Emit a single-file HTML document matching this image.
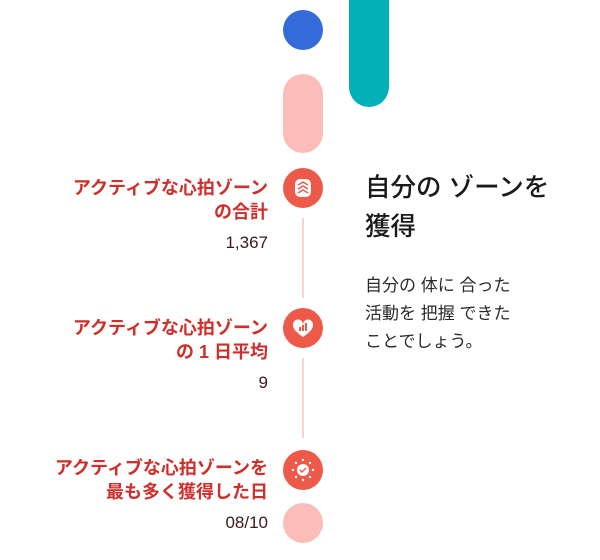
<!DOCTYPE html><html><head><meta charset="utf-8"><style>
body{margin:0;width:600px;height:560px;background:#fff;position:relative;overflow:hidden;font-family:"Liberation Sans","Noto Sans CJK JP",sans-serif}
div{position:absolute}
.c{width:40px;height:40px;border-radius:50%;background:#ee5a4a;left:283px}
.l{left:302px;width:2px;background:#fbd3d0}
.t{right:332px;text-align:right;color:#cf2f2a;font-weight:bold;font-size:18px;line-height:24px;white-space:nowrap}
.n{right:332px;color:#3a1a1e;font-size:17px;line-height:18px}
</style></head><body>
<div style="left:283px;top:10px;width:40px;height:40px;border-radius:50%;background:#356bd8"></div>
<div style="left:283px;top:74px;width:40px;height:79px;border-radius:20px;background:#fbbdb7"></div>
<div style="left:349px;top:-30px;width:40px;height:137px;border-radius:20px;background:#03b0b8"></div>

<div class="c" style="top:168px"><svg width="40" height="40"><rect x="12" y="11" width="16" height="18" rx="5" fill="#fff"/><path d="M15 17l5-3 5 3M15 21l5-3 5 3M15 25l5-3 5 3" stroke="#ee5a4a" stroke-width="1.6" fill="none"/></svg></div>
<div class="l" style="top:218px;height:80px"></div>
<div class="c" style="top:308px"><svg width="40" height="40"><path d="M20 29C13 24 10 21 10 17a5 5 0 0 1 10-1a5 5 0 0 1 10 1c0 4-3 7-10 12z" fill="#fff"/><rect x="16" y="19" width="2" height="4" fill="#ee5a4a"/><rect x="19" y="17" width="2" height="6" fill="#ee5a4a"/><rect x="22" y="15" width="2" height="8" fill="#ee5a4a"/></svg></div>
<div class="l" style="top:358px;height:80px"></div>
<div class="c" style="top:450px"><svg width="40" height="40"><circle cx="20" cy="20" r="6" fill="#fff"/><path d="M17 20l2 2 4-4" stroke="#ee5a4a" stroke-width="1.5" fill="none"/><g fill="#fff"><circle cx="20" cy="10" r="1.2"/><circle cx="20" cy="30" r="1.2"/><circle cx="10" cy="20" r="1.2"/><circle cx="30" cy="20" r="1.2"/><circle cx="13" cy="13" r="1.2"/><circle cx="27" cy="13" r="1.2"/><circle cx="13" cy="27" r="1.2"/><circle cx="27" cy="27" r="1.2"/></g></svg></div>
<div style="left:283px;top:503px;width:40px;height:40px;border-radius:50%;background:#fbbdb7"></div>

<div class="t" style="top:176px">アクティブな心拍ゾーン<br>の合計</div>
<div class="n" style="top:234px">1,367</div>
<div class="t" style="top:316px">アクティブな心拍ゾーン<br>の 1 日平均</div>
<div class="n" style="top:374px">9</div>
<div class="t" style="top:456px">アクティブな心拍ゾーンを<br>最も多く獲得した日</div>
<div class="n" style="top:514px">08/10</div>

<div style="left:365px;top:169px;font-size:25.5px;line-height:39px;color:#1a1a1a;font-weight:500;white-space:nowrap">自分の ゾーンを<br>獲得</div>
<div style="left:365px;top:272px;font-size:17px;line-height:28px;color:#2a2a2a;white-space:nowrap">自分の 体に 合った<br>活動を 把握 できた<br>ことでしょう。</div>
</body></html>
